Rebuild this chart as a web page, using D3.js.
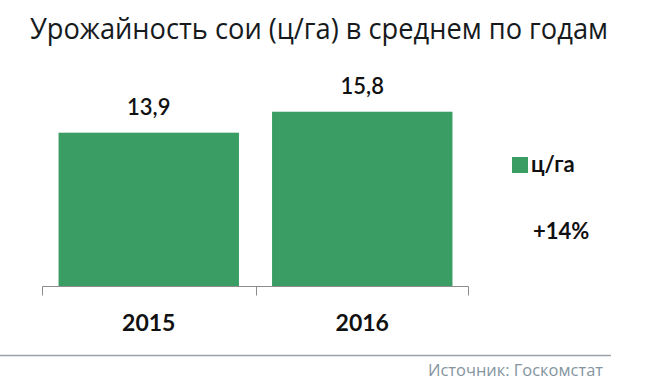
<!DOCTYPE html>
<html><head><meta charset="utf-8">
<script src="https://cdn.jsdelivr.net/npm/d3@7"></script>
<style>html,body{margin:0;padding:0;background:#fff;}svg{display:block;}</style>
</head><body>
<script>
const categories = ["2015", "2016"];
const values = [13.9, 15.8];
const valueLabels = ["13,9", "15,8"];
const title = "Урожайность сои (ц/га) в среднем по годам";
const legendLabel = "ц/га";
const changeLabel = "+14%";
const sourceLabel = "Источник: Госкомстат";

const W = 645, H = 388;
const green = "#3a9d63";
const axisColor = "#8c8c8c";
const svg = d3.select("body").append("svg").attr("width", W).attr("height", H);

svg.append("text").attr("x", 30).attr("y", 39)
  .attr("font-family", "'Open Sans', sans-serif").attr("font-size", 29).attr("font-weight", 500)
  .attr("fill", "#161a1d").attr("textLength", 578).attr("lengthAdjust", "spacingAndGlyphs")
  .text(title);

const x = d3.scaleBand().domain(categories).range([42, 469]).paddingInner(0.155).paddingOuter(0.0775);
const y = d3.scaleLinear().domain([0, 18]).range([286, 286 - 18 * 11.03]);

svg.selectAll("rect.bar").data(values).join("rect").attr("class", "bar")
  .attr("x", (d, i) => x(categories[i])).attr("width", x.bandwidth())
  .attr("y", d => y(d)).attr("height", d => y(0) - y(d)).attr("fill", green);

svg.selectAll("text.val").data(values).join("text").attr("class", "val")
  .attr("x", (d, i) => x(categories[i]) + x.bandwidth() / 2).attr("y", d => y(d) - 18)
  .attr("text-anchor", "middle").attr("font-family", "Lato, sans-serif").attr("font-size", 22)
  .attr("font-weight", 600).attr("fill", "#111").text((d, i) => valueLabels[i]);

// axis: baseline with outer ticks and a tick at the category boundary
const axisG = svg.append("g").attr("transform", `translate(0,${y(0) + 0.5})`);
axisG.call(d3.axisBottom(x).tickSize(0).tickFormat(""));
axisG.selectAll(".tick").remove();
const [r0, r1] = x.range();
axisG.select(".domain").attr("stroke", axisColor).attr("d", `M${r0 + 0.5},9V0H${r1 - 0.5}V9`);
const boundary = Math.round(x(categories[1]) - x.step() * x.paddingInner() / 2) + 0.5;
axisG.append("line").attr("x1", boundary).attr("x2", boundary)
  .attr("y1", 0).attr("y2", 9).attr("stroke", axisColor);

svg.selectAll("text.cat").data(categories).join("text").attr("class", "cat")
  .attr("x", d => x(d) + x.bandwidth() / 2).attr("y", 331)
  .attr("text-anchor", "middle").attr("font-family", "Lato, sans-serif").attr("font-weight", "bold")
  .attr("font-size", 23).attr("fill", "#111").text(d => d);

// legend
svg.append("rect").attr("x", 512).attr("y", 157).attr("width", 16).attr("height", 16).attr("fill", green);
svg.append("text").attr("x", 531).attr("y", 172).attr("font-family", "Lato, sans-serif")
  .attr("font-weight", "bold").attr("font-size", 22).attr("fill", "#111").text(legendLabel);
svg.append("text").attr("x", 533).attr("y", 239).attr("font-family", "Lato, sans-serif")
  .attr("font-weight", "bold").attr("font-size", 22).attr("fill", "#111").text(changeLabel);

// source
svg.append("line").attr("x1", 0).attr("x2", 611).attr("y1", 355.5).attr("y2", 355.5)
  .attr("stroke", "#9aa3a8").attr("stroke-width", 1.5);
svg.append("text").attr("x", 603).attr("y", 376).attr("text-anchor", "end")
  .attr("font-family", "'Open Sans', sans-serif").attr("font-size", 15.5).attr("fill", "#8494a0")
  .attr("textLength", 175).attr("lengthAdjust", "spacingAndGlyphs").text(sourceLabel);
</script>
</body></html>
